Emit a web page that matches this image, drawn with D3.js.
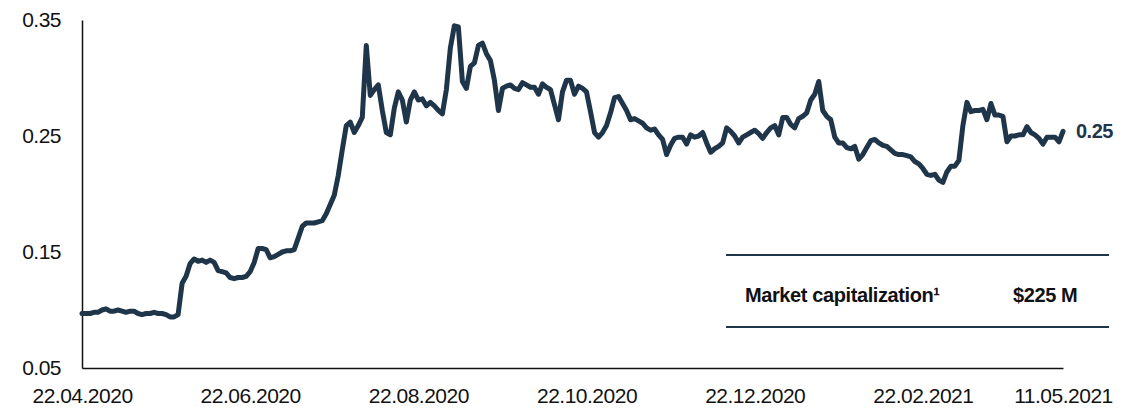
<!DOCTYPE html>
<html>
<head>
  <meta charset="utf-8" />
  <script src="https://cdnjs.cloudflare.com/ajax/libs/d3/7.8.5/d3.min.js"></script>
  <style>
    body { margin: 0; background: #fff; }
    text { font-family: "Liberation Sans", Arial, sans-serif; }
    .axis path.domain { stroke: #111; stroke-width: 1.5; }
    .axis .tick text { fill: #111; font-size: 21px; letter-spacing: -0.5px; }
  </style>
</head>
<body>
  <svg width="1135" height="410"></svg>
  <script>
  // daily share price, one value per trading step
  const prices = [
    0.097, 0.097, 0.097, 0.098, 0.098, 0.100, 0.101, 0.099, 0.099, 0.100,
    0.099, 0.098, 0.099, 0.099, 0.097, 0.096, 0.097, 0.097, 0.098, 0.097,
    0.097, 0.096, 0.094, 0.094, 0.096, 0.123, 0.129, 0.140, 0.144, 0.142,
    0.143, 0.141, 0.143, 0.141, 0.134, 0.133, 0.132, 0.128, 0.127, 0.128,
    0.128, 0.129, 0.133, 0.141, 0.153, 0.153, 0.152, 0.145, 0.146, 0.148,
    0.150, 0.151, 0.151, 0.152, 0.162, 0.172, 0.175, 0.175, 0.175, 0.176,
    0.177, 0.183, 0.191, 0.199, 0.216, 0.238, 0.259, 0.262, 0.253, 0.259,
    0.266, 0.328, 0.285, 0.290, 0.294, 0.272, 0.253, 0.251, 0.274, 0.288,
    0.281, 0.262, 0.281, 0.288, 0.281, 0.282, 0.276, 0.279, 0.276, 0.272,
    0.269, 0.290, 0.326, 0.345, 0.344, 0.297, 0.291, 0.310, 0.313, 0.328,
    0.330, 0.321, 0.315, 0.298, 0.272, 0.291, 0.293, 0.294, 0.291, 0.290,
    0.296, 0.294, 0.292, 0.292, 0.286, 0.295, 0.292, 0.290, 0.277, 0.264,
    0.288, 0.298, 0.298, 0.286, 0.293, 0.291, 0.288, 0.271, 0.253, 0.249,
    0.253, 0.259, 0.270, 0.283, 0.284, 0.278, 0.272, 0.264, 0.265, 0.263,
    0.261, 0.257, 0.255, 0.256, 0.251, 0.247, 0.234, 0.242, 0.248, 0.249,
    0.249, 0.243, 0.251, 0.249, 0.250, 0.253, 0.244, 0.236, 0.239, 0.241,
    0.244, 0.257, 0.254, 0.250, 0.244, 0.249, 0.251, 0.253, 0.255, 0.252,
    0.248, 0.253, 0.257, 0.259, 0.251, 0.266, 0.266, 0.260, 0.257, 0.265,
    0.267, 0.270, 0.281, 0.286, 0.297, 0.272, 0.267, 0.264, 0.249, 0.244,
    0.244, 0.240, 0.239, 0.241, 0.230, 0.234, 0.240, 0.246, 0.247, 0.244,
    0.242, 0.241, 0.238, 0.235, 0.234, 0.234, 0.233, 0.232, 0.228, 0.226,
    0.222, 0.217, 0.216, 0.217, 0.212, 0.210, 0.219, 0.224, 0.224, 0.229,
    0.259, 0.279, 0.271, 0.272, 0.272, 0.273, 0.264, 0.278, 0.268, 0.268,
    0.267, 0.245, 0.250, 0.250, 0.251, 0.251, 0.258, 0.253, 0.251, 0.248,
    0.243, 0.249, 0.249, 0.249, 0.245, 0.254
  ];
  const xTickIndex  = [0, 42, 84, 126, 168, 210, 245];
  const xTickLabels = ["22.04.2020", "22.06.2020", "22.08.2020", "22.10.2020",
                       "22.12.2020", "22.02.2021", "11.05.2021"];
  const yTicks = [0.05, 0.15, 0.25, 0.35];
  const capLabel = "Market capitalization\u00b9";
  const capValue = "$225 M";

  const navy = "#1f3549";
  const svg = d3.select("svg");

  const x = d3.scaleLinear().domain([0, prices.length - 1]).range([82, 1063]);
  const y = d3.scaleLinear().domain([0.05, 0.35]).range([368, 20]);

  // axes
  svg.append("g")
    .attr("class", "axis")
    .attr("transform", "translate(82,0)")
    .call(d3.axisLeft(y).tickValues(yTicks).tickFormat(d3.format(".2f"))
            .tickSize(0).tickPadding(21))

  svg.append("g")
    .attr("class", "axis")
    .attr("transform", "translate(0,368)")
    .call(d3.axisBottom(x).tickValues(xTickIndex).tickFormat((d, i) => xTickLabels[i])
            .tickSize(0).tickPadding(20))

  // price line
  const line = d3.line()
    .x((d, i) => x(i))
    .y(d => y(d))

  svg.append("path")
    .attr("d", line(prices))
    .attr("fill", "none")
    .attr("stroke", navy)
    .attr("stroke-width", 5)
    .attr("stroke-linejoin", "round")
    .attr("stroke-linecap", "round")

  // last value label
  const last = prices[prices.length - 1];
  svg.append("text")
    .attr("x", x(prices.length - 1) + 13)
    .attr("y", y(last))
    .attr("dy", "0.35em")
    .attr("fill", navy)
    .attr("font-size", 20)
    .attr("font-weight", "bold")
    .attr("letter-spacing", "-0.5px")
    .text(d3.format(".2f")(last))

  // market cap box
  const box = svg.append("g")
  box.append("line").attr("x1", 726).attr("x2", 1109).attr("y1", 255).attr("y2", 255)
    .attr("stroke", navy).attr("stroke-width", 2)
  box.append("line").attr("x1", 726).attr("x2", 1109).attr("y1", 327).attr("y2", 327)
    .attr("stroke", navy).attr("stroke-width", 2)
  box.append("text").attr("x", 745).attr("y", 295).attr("dy", "0.35em")
    .attr("font-size", 20).attr("font-weight", "bold").attr("fill", "#111")
    .attr("letter-spacing", "-0.4px")
    .text(capLabel)
  box.append("text").attr("x", 1013).attr("y", 295).attr("dy", "0.35em")
    .attr("font-size", 20).attr("font-weight", "bold").attr("fill", "#111")
    .attr("letter-spacing", "-0.4px")
    .text(capValue)
  </script>
</body>
</html>
